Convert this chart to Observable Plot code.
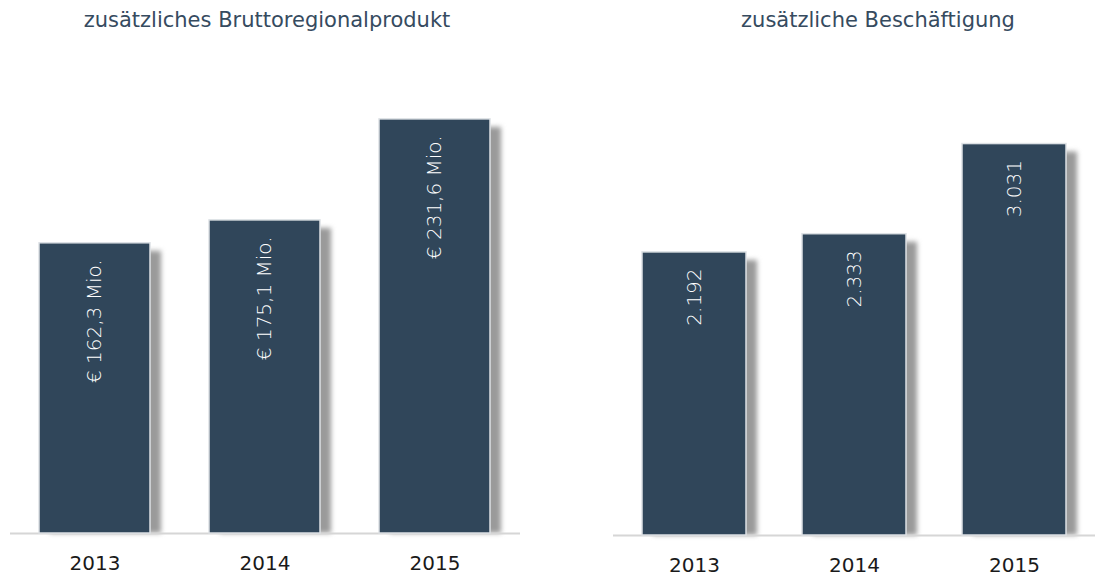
<!DOCTYPE html>
<html>
<head>
<meta charset="utf-8">
<script src="https://cdn.jsdelivr.net/npm/d3@7"></script>
<script src="https://cdn.jsdelivr.net/npm/@observablehq/plot@0.6"></script>
<style>
  html, body { margin: 0; padding: 0; background: #fff; }
  #wrap { position: relative; width: 1103px; height: 576px; overflow: hidden; font-family: "DejaVu Sans", sans-serif; }
  .title { position: absolute; font-size: 21px; color: #364b5f; text-align: center; white-space: nowrap; top: 8px; }
  .panel { position: absolute; top: 45px; }
</style>
</head>
<body>
<svg width="0" height="0" style="position:absolute">
  <defs>
    <filter id="shblur" x="-50%" y="-20%" width="200%" height="140%">
      <feGaussianBlur stdDeviation="2.5"/>
    </filter>
  </defs>
</svg>
<div id="wrap">
  <div class="title" style="left:2px; width:530px;">zusätzliches Bruttoregionalprodukt</div>
  <div class="title" style="left:613px; width:530px;">zusätzliche Beschäftigung</div>
  <div class="panel" id="p1" style="left:0;"></div>
  <div class="panel" id="p2" style="left:551px;"></div>
</div>
<script>
const years = ["2013", "2014", "2015"];
const brpValues = [162.3, 175.1, 231.6];
const brpLabels = ["€ 162,3 Mio.", "€ 175,1 Mio.", "€ 231,6 Mio."];
const jobValues = [2192, 2333, 3031];
const jobLabels = ["2.192", "2.333", "3.031"];

const barColor = "#30465a";

function panel(values, labels, opts) {
  const data = years.map((y, i) => ({year: y, value: values[i], label: labels[i]}));
  const svg = Plot.plot({
    width: opts.width,
    height: 531,
    marginLeft: opts.marginLeft,
    marginRight: opts.marginRight,
    marginTop: opts.marginTop,
    marginBottom: opts.marginBottom,
    style: {fontFamily: "'DejaVu Sans', sans-serif", background: "transparent", overflow: "visible"},
    x: {domain: years, paddingInner: 0.347, paddingOuter: 0.1735, label: null},
    y: {domain: [0, opts.ymax], axis: null},
    marks: [
      Plot.barY(data, {x: "year", y: "value", fill: "#9a9a9a", dx: 11, insetTop: 8, ariaLabel: "shadow"}),
      Plot.ruleY([0], {stroke: "#d6d6d6", strokeWidth: 2}),
      Plot.barY(data, {x: "year", y: "value", fill: barColor, stroke: "#dde1e5", strokeWidth: 1.5}),
      Plot.text(data, {x: "year", y: "value", text: "label", rotate: -90, textAnchor: "end", lineAnchor: "middle", dy: 16, fill: "white", fontSize: 20, fontWeight: 200}),
      Plot.axisX({tickSize: 0, tickPadding: 22, fontSize: 20, color: "#1a1a1a", label: null})
    ]
  });
  const groups = svg.querySelectorAll("g[aria-label]");
  let sh = null;
  groups.forEach(g => { if (!sh && (g.getAttribute("aria-label") === "shadow" || g.getAttribute("aria-label") === "bar")) sh = g; });
  if (sh) { sh.setAttribute("filter", "url(#shblur)"); sh.style.filter = "blur(2.5px)"; }
  return svg;
}

document.getElementById("p1").appendChild(panel(brpValues, brpLabels, {
  width: 540, marginLeft: 10, marginRight: 20, marginTop: 41, marginBottom: 43, ymax: 250
}));
document.getElementById("p2").appendChild(panel(jobValues, jobLabels, {
  width: 552, marginLeft: 62, marginRight: 8, marginTop: 38, marginBottom: 41, ymax: 3500
}));
</script>
</body>
</html>
